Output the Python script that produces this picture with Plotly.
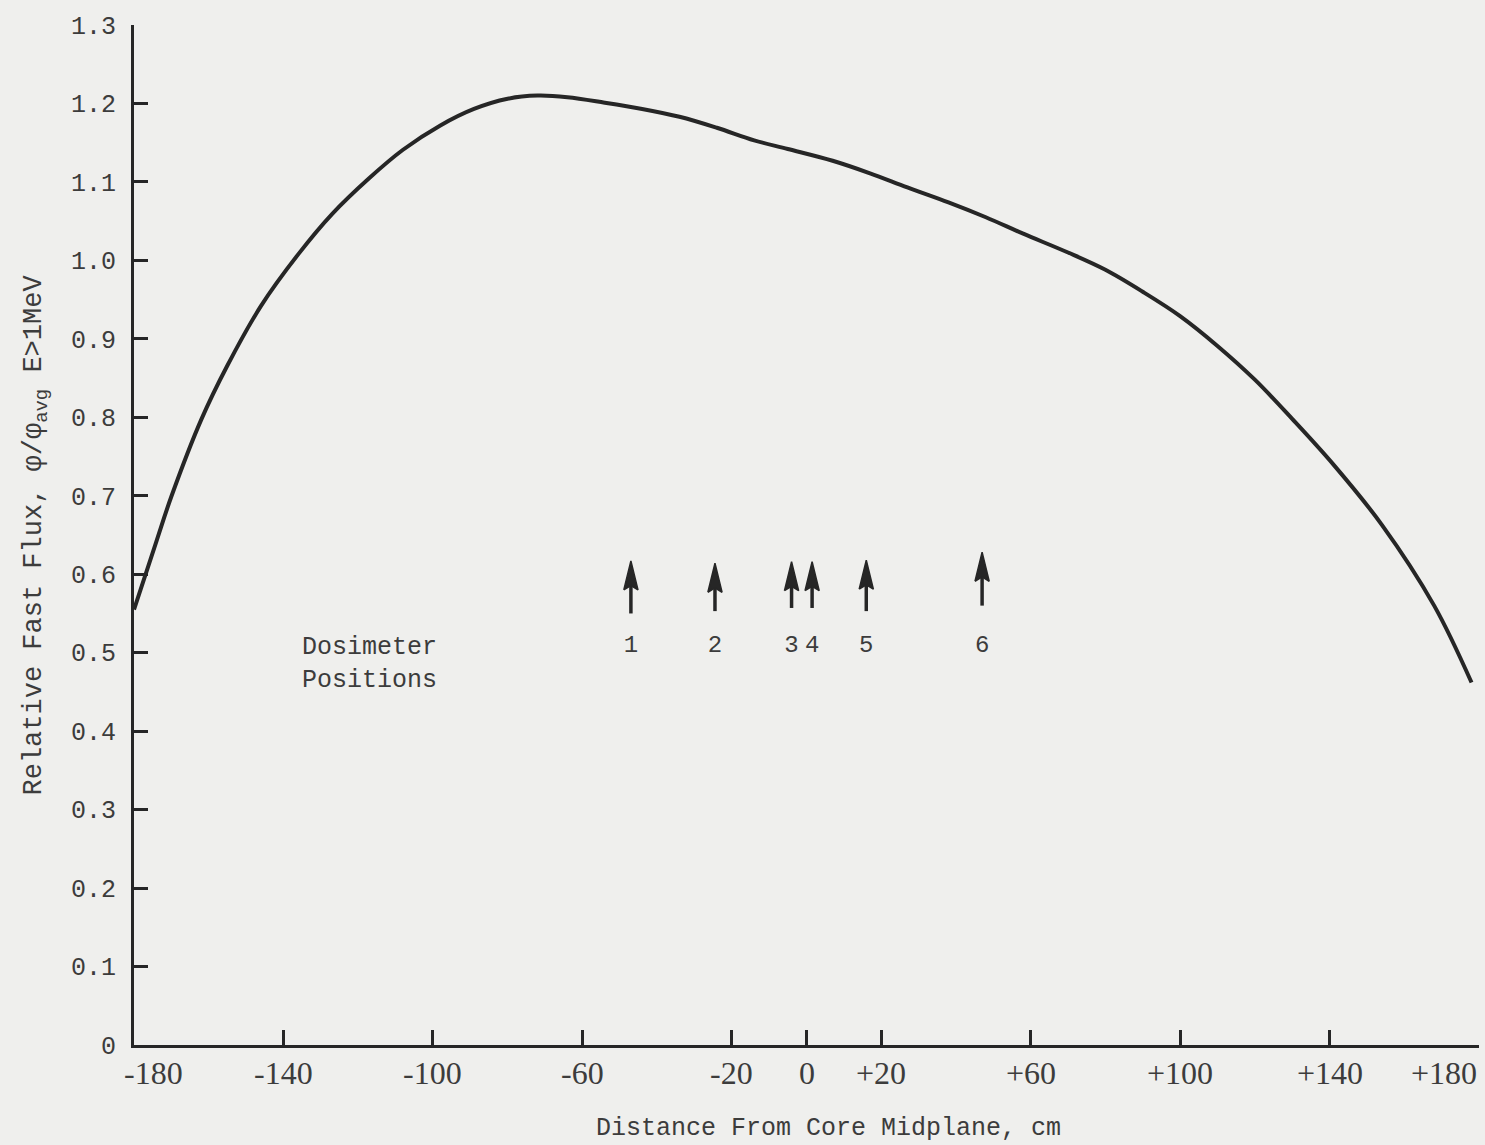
import plotly.graph_objects as go

# ---- data ----
x_cm = [-180, -174, -170, -162, -155, -146, -136, -127, -117, -108, -98, -89, -80, -72,
        -64, -54, -44, -34, -24, -14, -5, 7, 17, 27, 38, 48, 58, 70, 80, 90, 100, 110,
        120, 130, 141, 154, 168, 178]
rel_flux = [0.555, 0.642, 0.699, 0.797, 0.866, 0.942, 1.008, 1.059, 1.105, 1.141, 1.172,
            1.193, 1.206, 1.210, 1.208, 1.201, 1.193, 1.183, 1.169, 1.153, 1.142, 1.127,
            1.111, 1.093, 1.074, 1.055, 1.034, 1.010, 0.988, 0.960, 0.929, 0.891, 0.848,
            0.798, 0.740, 0.663, 0.560, 0.462]

x_tick_vals = [-180, -140, -100, -60, -20, 0, 20, 60, 100, 140, 180]
x_tick_text = ["-180", "-140", "-100", "-60", "-20", "0", "+20", "+60", "+100", "+140", "+180"]
y_tick_vals = [0, 0.1, 0.2, 0.3, 0.4, 0.5, 0.6, 0.7, 0.8, 0.9, 1.0, 1.1, 1.2, 1.3]
y_tick_text = ["0", "0.1", "0.2", "0.3", "0.4", "0.5", "0.6", "0.7", "0.8", "0.9",
               "1.0", "1.1", "1.2", "1.3"]

dos_labels = ["1", "2", "3", "4", "5", "6"]
dos_x = [-47, -24.5, -4, 1.5, 16, 47]
dos_tip = [0.617, 0.614, 0.616, 0.616, 0.618, 0.628]
dos_tail = [0.550, 0.553, 0.557, 0.557, 0.553, 0.560]
dos_label_y = 0.508

# ---- styling ----
INK = "#262626"
TXT = "#3c3c3c"
BG = "#efefed"
MONO = "Liberation Mono, Courier New, monospace"
SERIF = "Liberation Serif, Times New Roman, serif"
HEAD_LEN = 0.037   # arrow head length (y units)
HEAD_HALF = 1.9    # arrow head half width (x units)

fig = go.Figure()

fig.add_trace(go.Scatter(
    x=x_cm, y=rel_flux, mode="lines",
    line=dict(color=INK, width=4, shape="spline", smoothing=1.0),
    hoverinfo="skip"))

# arrow shafts
sx, sy = [], []
for x, tip, tail in zip(dos_x, dos_tip, dos_tail):
    sx += [x, x, None]
    sy += [tail, tip - HEAD_LEN * 0.6, None]
fig.add_trace(go.Scatter(x=sx, y=sy, mode="lines",
                         line=dict(color=INK, width=3.5), hoverinfo="skip"))

# arrow heads
hx, hy = [], []
for x, tip in zip(dos_x, dos_tip):
    hx += [x - HEAD_HALF, x, x + HEAD_HALF, x, x - HEAD_HALF, None]
    hy += [tip - HEAD_LEN, tip, tip - HEAD_LEN, tip - HEAD_LEN * 0.85, tip - HEAD_LEN, None]
fig.add_trace(go.Scatter(x=hx, y=hy, mode="lines", fill="toself", fillcolor=INK,
                         line=dict(color=INK, width=1.5), hoverinfo="skip"))

# dosimeter numbers
fig.add_trace(go.Scatter(x=dos_x, y=[dos_label_y] * len(dos_x), mode="text",
                         text=dos_labels, textposition="middle center",
                         textfont=dict(family=MONO, size=24, color=TXT),
                         hoverinfo="skip"))

annotations = []
# x tick labels
n = len(x_tick_vals)
for i, (v, t) in enumerate(zip(x_tick_vals, x_tick_text)):
    if i == 0:
        anchor, shift = "left", -12
    elif i == n - 1:
        anchor, shift = "right", 0
    else:
        anchor, shift = "center", 0
    annotations.append(dict(x=v, y=0, xref="x", yref="paper", text=t,
                            showarrow=False, xanchor=anchor, yanchor="top",
                            xshift=shift, yshift=-8,
                            font=dict(family=SERIF, size=32, color=TXT)))

annotations.append(dict(x=-135.6, y=0.485, xref="x", yref="y",
                        text="Dosimeter<br>Positions", align="left",
                        showarrow=False, xanchor="left", yanchor="middle",
                        font=dict(family=MONO, size=25, color=TXT)))

annotations.append(dict(x=0.5167, y=-0.082, xref="paper", yref="paper",
                        text="Distance From Core Midplane, cm",
                        showarrow=False, xanchor="center", yanchor="middle",
                        font=dict(family=MONO, size=25, color=TXT)))

annotations.append(dict(x=-0.0725, y=0.5, xref="paper", yref="paper",
                        text="Relative Fast Flux, \u03c6/\u03c6<sub>avg</sub> E&gt;1MeV",
                        textangle=-90, showarrow=False,
                        xanchor="center", yanchor="middle",
                        font=dict(family=MONO, size=27, color=TXT)))

fig.update_layout(
    width=1485, height=1145,
    margin=dict(l=134, r=6, t=25, b=100),
    paper_bgcolor=BG, plot_bgcolor=BG,
    showlegend=False,
    annotations=annotations,
    xaxis=dict(range=[-180, 180], tickvals=x_tick_vals, showticklabels=False,
               ticks="inside", ticklen=15, tickwidth=3, tickcolor=INK,
               showline=True, linewidth=3, linecolor=INK,
               showgrid=False, zeroline=False, fixedrange=True),
    yaxis=dict(range=[0, 1.3], tickvals=y_tick_vals, ticktext=y_tick_text,
               ticks="inside", ticklen=14, tickwidth=3, tickcolor=INK,
               ticklabelstandoff=10,
               tickfont=dict(family=MONO, size=25, color=TXT),
               showline=True, linewidth=3, linecolor=INK,
               showgrid=False, zeroline=False, fixedrange=True),
)

fig.write_html("out.html")
